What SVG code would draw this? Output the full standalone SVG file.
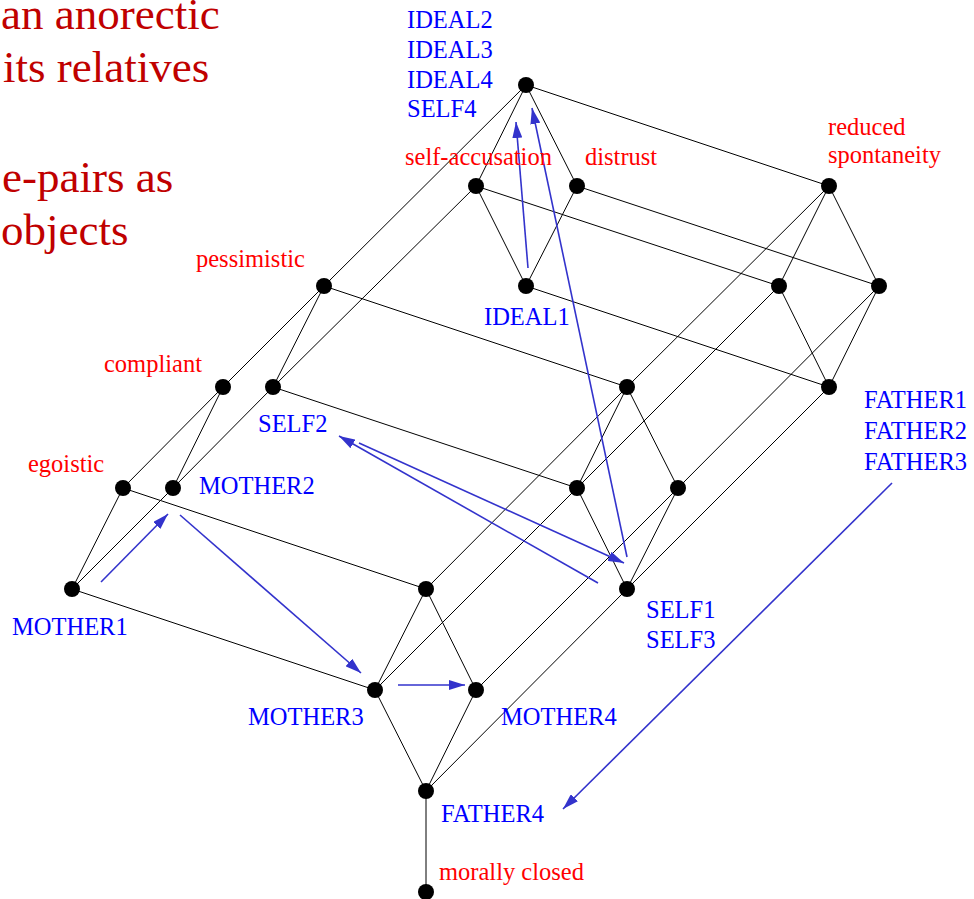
<svg xmlns="http://www.w3.org/2000/svg" width="974" height="899" viewBox="0 0 974 899">
<style>
.e{stroke:#000;stroke-width:1;fill:none}
.a{stroke:#3333cc;stroke-width:1.6;fill:none;marker-end:url(#ah)}
.n{fill:#000}
text{font-family:"Liberation Serif","Times New Roman",serif}
.t{font-size:45px;fill:#c00000}
.r{font-size:24.5px;fill:#ff0000}
.b{font-size:24.5px;fill:#0000ff}
</style>
<defs>
<marker id="ah" viewBox="0 0 16 10" refX="16" refY="5" markerWidth="16" markerHeight="10" orient="auto" markerUnits="userSpaceOnUse">
<path d="M0,0 L16,5 L0,10 z" fill="#3333cc"/>
</marker>
</defs>
<rect width="974" height="899" fill="#fff"/>
<g id="title">
<text class="t" x="1" y="29">an anorectic</text>
<text class="t" x="3" y="82">its relatives</text>
<text class="t" x="2" y="192">e-pairs as</text>
<text class="t" x="1" y="245">objects</text>
</g>
<g id="connectors">
<path class="e" d="M526,85L476,186M526,85L577,186M476,186L526,286M577,186L526,286"/>
<path class="e" d="M526,85L829,186M476,186L779,286M577,186L879,286M526,286L829,387"/>
<path class="e" d="M829,186L779,286M829,186L879,286M779,286L829,387M879,286L829,387"/>
<path class="e" d="M526,85L324,286M476,186L273,387"/>
<path class="e" d="M324,286L223,387M324,286L273,387M223,387L123,488M223,387L173,488M273,387L173,488M123,488L72,589M173,488L72,589"/>
<path class="e" d="M324,286L627,387M273,387L577,488M123,488L426,589M72,589L375,690"/>
<path class="e" d="M829,186L627,387M779,286L577,488M879,286L678,488M829,387L627,589"/>
<path class="e" d="M627,387L577,488M627,387L678,488M577,488L627,589M678,488L627,589"/>
<path class="e" d="M627,387L426,589M577,488L375,690M678,488L476,690M627,589L426,791"/>
<path class="e" d="M426,589L375,690M426,589L476,690M375,690L426,791M476,690L426,791M426,791L426,892"/>
<line class="a" x1="101" y1="582" x2="168" y2="514"/>
<line class="a" x1="180" y1="515" x2="361" y2="673"/>
<line class="a" x1="398" y1="685" x2="465" y2="685"/>
<line class="a" x1="598" y1="583" x2="339" y2="436"/>
<line class="a" x1="359" y1="443" x2="624" y2="563"/>
<line class="a" x1="627" y1="557" x2="532" y2="108"/>
<line class="a" x1="528" y1="268" x2="516" y2="122"/>
<line class="a" x1="892" y1="483" x2="563" y2="809"/>
</g>
<g id="n-top"><circle class="n" cx="526" cy="85" r="8"/>
<text class="b" x="407" y="28">IDEAL2</text><text class="b" x="407" y="58">IDEAL3</text><text class="b" x="407" y="88">IDEAL4</text><text class="b" x="407" y="117">SELF4</text></g>
<g id="n-selfaccusation"><circle class="n" cx="476" cy="186" r="8"/><text class="r" x="405" y="165">self-accusation</text></g>
<g id="n-distrust"><circle class="n" cx="577" cy="186" r="8"/><text class="r" x="585" y="165">distrust</text></g>
<g id="n-ideal1"><circle class="n" cx="526" cy="286" r="8"/><text class="b" x="484" y="325">IDEAL1</text></g>
<g id="n-reduced"><circle class="n" cx="829" cy="186" r="8"/><text class="r" x="828" y="135">reduced</text><text class="r" x="828" y="163">spontaneity</text></g>
<g id="n-r2"><circle class="n" cx="779" cy="286" r="8"/></g>
<g id="n-r3"><circle class="n" cx="879" cy="286" r="8"/></g>
<g id="n-r4"><circle class="n" cx="829" cy="387" r="8"/>
<text class="b" x="864" y="408">FATHER1</text><text class="b" x="864" y="439">FATHER2</text><text class="b" x="864" y="470">FATHER3</text></g>
<g id="n-pessimistic"><circle class="n" cx="324" cy="286" r="8"/><text class="r" x="196" y="267">pessimistic</text></g>
<g id="n-compliant"><circle class="n" cx="223" cy="387" r="8"/><text class="r" x="104" y="372">compliant</text></g>
<g id="n-self2"><circle class="n" cx="273" cy="387" r="8"/><text class="b" x="258" y="432">SELF2</text></g>
<g id="n-egoistic"><circle class="n" cx="123" cy="488" r="8"/><text class="r" x="28" y="472">egoistic</text></g>
<g id="n-mother2"><circle class="n" cx="173" cy="488" r="8"/><text class="b" x="199" y="494">MOTHER2</text></g>
<g id="n-mother1"><circle class="n" cx="72" cy="589" r="8"/><text class="b" x="12" y="635">MOTHER1</text></g>
<g id="n-m627"><circle class="n" cx="627" cy="387" r="8"/></g>
<g id="n-m577"><circle class="n" cx="577" cy="488" r="8"/></g>
<g id="n-m678"><circle class="n" cx="678" cy="488" r="8"/></g>
<g id="n-self1"><circle class="n" cx="627" cy="589" r="8"/><text class="b" x="646" y="618">SELF1</text><text class="b" x="646" y="648">SELF3</text></g>
<g id="n-l426"><circle class="n" cx="426" cy="589" r="8"/></g>
<g id="n-mother3"><circle class="n" cx="375" cy="690" r="8"/><text class="b" x="248" y="725">MOTHER3</text></g>
<g id="n-mother4"><circle class="n" cx="476" cy="690" r="8"/><text class="b" x="501" y="725">MOTHER4</text></g>
<g id="n-father4"><circle class="n" cx="426" cy="791" r="8"/><text class="b" x="441" y="822">FATHER4</text></g>
<g id="n-bottom"><circle class="n" cx="426" cy="892" r="8"/><text class="r" x="439" y="880">morally closed</text></g>
</svg>
